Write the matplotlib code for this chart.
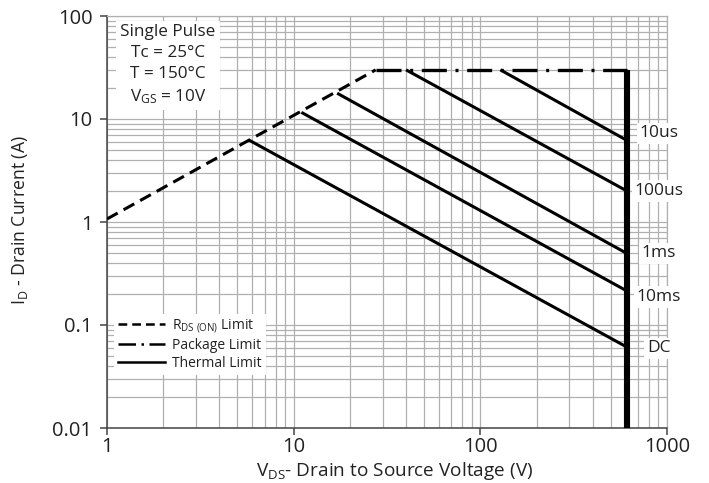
import matplotlib
matplotlib.use("Agg")
import matplotlib.pyplot as plt
from matplotlib.lines import Line2D
from matplotlib.ticker import LogLocator, NullFormatter

plt.rcParams['font.family'] = ['Open Sans', 'DejaVu Sans']
plt.rcParams['mathtext.fontset'] = 'custom'
plt.rcParams['mathtext.rm'] = 'Open Sans'
plt.rcParams['mathtext.it'] = 'Open Sans'

# ---- data ----
V_rds = [1.0, 27.5]
I_rds = [1.07, 30.0]
V_pkg = [27.5, 610.0]
I_pkg = [30.0, 30.0]
V_max = 610.0
I_vline = [0.01, 30.0]

pulse_labels = ["10us", "100us", "1ms", "10ms", "DC"]
start_V = [128.0, 40.0, 17.1, 11.0, 5.8]
start_I = [30.0, 30.0, 17.8, 11.6, 6.2]
end_I = [6.2, 2.0, 0.495, 0.214, 0.061]

x_ticks = [1, 10, 100, 1000]
x_ticklabels = ["1", "10", "100", "1000"]
y_ticks = [0.01, 0.1, 1, 10, 100]
y_ticklabels = ["0.01", "0.1", "1", "10", "100"]

W, H = 709, 483
fig = plt.figure(figsize=(W / 100, H / 100), dpi=100)
ax = fig.add_axes([107 / W, 1 - 428 / H, (667 - 107) / W, (428 - 16) / H])
ax.set_xscale('log')
ax.set_yscale('log')
ax.set_xlim(1, 1000)
ax.set_ylim(0.01, 100)

grid_c = '#b0b0b0'
ax.xaxis.set_minor_locator(LogLocator(base=10, subs=range(2, 10)))
ax.yaxis.set_minor_locator(LogLocator(base=10, subs=range(2, 10)))
ax.xaxis.set_minor_formatter(NullFormatter())
ax.yaxis.set_minor_formatter(NullFormatter())
ax.grid(True, which='both', color=grid_c, linewidth=0.9)
ax.set_axisbelow(True)

ax.set_xticks(x_ticks)
ax.set_xticklabels(x_ticklabels)
ax.set_yticks(y_ticks)
ax.set_yticklabels(y_ticklabels)
ax.tick_params(which='major', length=5, width=1.1, color='#444444', labelsize=14.5,
               labelcolor='#222222')
ax.tick_params(axis='x', which='major', pad=1.5)
ax.tick_params(axis='y', which='major', pad=5.5)
ax.tick_params(which='minor', length=0)

for s in ['top', 'right']:
    ax.spines[s].set_color(grid_c)
    ax.spines[s].set_linewidth(0.9)
for s in ['left', 'bottom']:
    ax.spines[s].set_color('#444444')
    ax.spines[s].set_linewidth(1.1)

# RDS(on) limit
ax.plot(V_rds, I_rds, color='black', lw=2.2, dashes=(4, 2.2), solid_capstyle='butt', zorder=3)
# package limit
ax.plot(V_pkg, I_pkg, color='black', lw=2.4, dashes=(7.5, 2.6, 0.9, 2.6), zorder=3)
# thermal lines
for sv, si, ei in zip(start_V, start_I, end_I):
    ax.plot([sv, V_max], [si, ei], color='black', lw=2.2, solid_capstyle='butt', zorder=3)
# max voltage line
ax.plot([V_max, V_max], I_vline, color='black', lw=4.4, solid_capstyle='butt', zorder=4)

# labels at right
label_offsets = [5, 0, 0, -4.5, -1]
for lab, ei, off in zip(pulse_labels, end_I, label_offsets):
    ax.annotate(lab, xy=(V_max, ei), xytext=(23, off), textcoords='offset points',
                ha='center', va='center', fontsize=12.5, color='#222222',
                bbox=dict(facecolor='white', edgecolor='none', pad=2.0), zorder=5,
                annotation_clip=False)

# top-left condition box
box_lines = ["Single Pulse", "Tc = 25°C", "T = 150°C", r"V$_\mathregular{GS}$ = 10V"]
ax.text(0.109, 0.881, "\n".join(box_lines), transform=ax.transAxes, ha='center', va='center',
        fontsize=12.3, linespacing=1.4, color='#222222',
        bbox=dict(facecolor='white', edgecolor='none', pad=3), zorder=5)

# legend
handles = [
    Line2D([], [], color='black', lw=1.8, dashes=(3.5, 2.0)),
    Line2D([], [], color='black', lw=1.8, dashes=(7, 2.2, 1, 2.2)),
    Line2D([], [], color='black', lw=1.8),
]
leg_labels = [r"R$_\mathregular{DS\ (ON)}$ Limit", "Package Limit", "Thermal Limit"]
leg = ax.legend(handles, leg_labels, loc='lower left', bbox_to_anchor=(0.012, 0.128),
                fontsize=10, frameon=True, fancybox=False, framealpha=1,
                edgecolor='none', facecolor='white', handlelength=3.4,
                handletextpad=0.5, labelspacing=0.22, borderpad=0.3, borderaxespad=0)
leg.set_zorder(5)
for t in leg.get_texts():
    t.set_color('#222222')

ax.set_xlabel(r"V$_\mathregular{DS}$- Drain to Source Voltage (V)", fontsize=13.7, color='#222222')
ax.set_ylabel(r"I$_\mathregular{D}$ - Drain Current (A)", fontsize=12.7, color='#222222')
ax.xaxis.set_label_coords(0.513, -0.078)
ax.yaxis.set_label_coords(-0.1375, 0.505)

fig.savefig("out.png", dpi=100)
